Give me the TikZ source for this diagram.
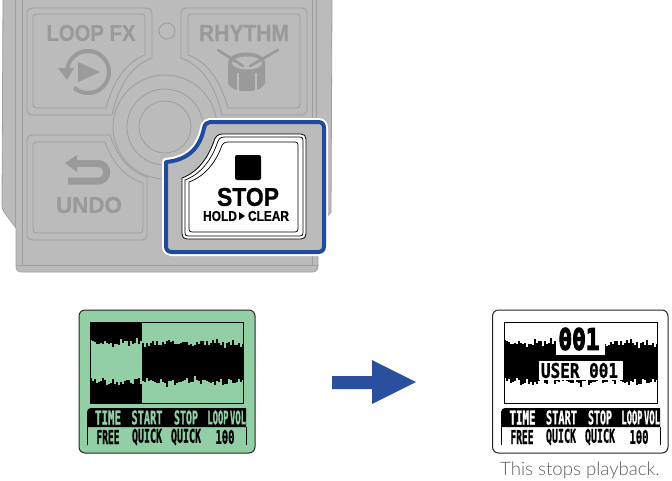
\documentclass[tikz,border=0pt]{standalone}
\usepackage{fontspec}
\usepackage{graphicx}
\setmainfont{Liberation Sans}
\newfontfamily\lcdfont{DejaVu Sans Mono Bold}[FakeBold=1.2]
\newfontfamily\lcdheavy{DejaVu Sans Mono Bold}[FakeBold=4]
\newfontfamily\heavy{Liberation Sans Bold}[FakeBold=0.8]
\newfontfamily\capfont{Lato Light}
\definecolor{bodyfill}{HTML}{BBBBBB}
\definecolor{bodyline}{HTML}{9E9E9E}
\definecolor{bodytext}{HTML}{9A9A9A}
\definecolor{hiblue}{HTML}{1F4A9E}
\definecolor{arrowblue}{HTML}{2A4F9F}
\definecolor{lcdgreen}{HTML}{92CFA5}
\definecolor{captext}{HTML}{5E5E5E}
\newcommand{\fitwh}[3]{\resizebox{#1pt}{#2pt}{\heavy #3}}
\newcommand{\lcdtxt}[3]{\resizebox{#1pt}{#2pt}{\lcdfont #3}}
\newcommand{\angm}[1]{\the\numexpr \i*#1-360*(\i*#1/360)\relax}
\tikzset{
  x=1pt,y=-1pt,
  outl/.style={draw=bodyline,line width=0.8pt,fill=none},
  lbl/.style={inner sep=0pt,text=bodytext},
  lcdlbl/.style={inner sep=0pt,anchor=center},
  icon/.style={draw=bodytext,line cap=butt},
}
% waveform bars, #1 first x, #2 second x, #3 last x, #4 colour, #5 x offset
\newcommand{\wavebars}[5]{%
  \foreach \i in {#1,#2,...,#3}{%
    \pgfmathsetmacro\tp{343+1.6*sin(\angm{23})+1.5*sin(\angm{71})+1.4*sin(\angm{113})-1.0*sin(\angm{9})}%
    \pgfmathsetmacro\bt{381.5+1.8*sin(\angm{31})+1.6*sin(\angm{83})+1.4*sin(\angm{137})+1.2*sin(\angm{7})}%
    \fill[#4] (#5+\i,\tp) rectangle (#5+\i+2.1,\bt);
  }}
% lower label block; #1 x offset, #2 bar text colour, #3 name prefix, #4..#8 positions
\newcommand{\softkeys}[8]{%
  \fill[black] (#1+87,427) -- (#1+87,412) arc[start angle=180,end angle=270,radius=4] -- (#1+246,408) -- (#1+246,427) -- cycle;
  \draw[black,line width=0.9pt] (#1+87,427) -- (#1+87,445) (#1+246,427) -- (#1+246,445);
  \node[lcdlbl,text=#2] (#3time) at (#1+#4,417.5) {\lcdtxt{26}{14}{TIME}};
  \node[lcdlbl,text=#2] (#3start) at (#1+#5,417.5) {\lcdtxt{31}{14}{START}};
  \node[lcdlbl,text=#2] (#3stop) at (#1+#6,417.5) {\lcdtxt{24}{14}{STOP}};
  \node[lcdlbl,text=#2] (#3loop) at (#1+#7,417.5) {\lcdtxt{21}{14}{LOOP}};
  \node[lcdlbl,text=#2] (#3vol) at (#1+#8,417.5) {\lcdtxt{16}{14}{VOL}};
  \node[lcdlbl] (#3free) at (#1+108,437) {\lcdtxt{23}{14}{FREE}};
  \node[lcdlbl] (#3quicka) at (#1+147,437) {\lcdtxt{30}{14}{QUICK}};
  \node[lcdlbl] (#3quickb) at (#1+186,437) {\lcdtxt{30}{14}{QUICK}};
  \node[lcdlbl] (#3vals) at (#1+225,437) {\lcdtxt{19}{14}{100}};
}
\begin{document}
\begin{tikzpicture}
\useasboundingbox (0,0) rectangle (672,480);
% device body
\fill[bodyfill] (3,0) -- (2,205) .. controls (2,210) and (4,212) .. (7,216) -- (16,228) -- (16,266) .. controls (16,270) and (18,272) .. (22,272)
  -- (312,272) .. controls (316,272) and (318,270) .. (318,266) -- (318,228) -- (331,212) -- (332,0) -- cycle;
\draw[outl] (3,0) -- (2,205) .. controls (2,210) and (4,212) .. (7,216) -- (16,228) -- (16,266) .. controls (16,270) and (18,272) .. (22,272)
  -- (312,272) .. controls (316,272) and (318,270) .. (318,266) -- (318,228) -- (331,212) -- (332,0);
\draw[outl] (15,0) -- (15,228) (22,0) -- (22,265) (316,0) -- (316,228) (312,0) -- (312,265) (16,265) -- (318,265);
% loop fx button
\draw[outl] (33,8) -- (146,8) .. controls (150,8) and (152,10) .. (152,14) -- (152,58) .. controls (130,66) and (118,88) .. (112,115) -- (33,115) .. controls (29,115) and (27,113) .. (27,109) -- (27,14) .. controls (27,10) and (29,8) .. (33,8) -- cycle;
\draw[outl] (37,14) -- (141,14) .. controls (144,14) and (145,15) .. (145,18) -- (145,55) .. controls (125,62) and (112,85) .. (106,108) -- (37,108) .. controls (34,108) and (33,107) .. (33,104) -- (33,18) .. controls (33,15) and (34,14) .. (37,14) -- cycle;
% rhythm button
\draw[outl] (187,8) -- (301,8) .. controls (305,8) and (307,10) .. (307,14) -- (307,109) .. controls (307,113) and (305,115) .. (301,115) -- (222,115) .. controls (216,88) and (203,66) .. (181,58) -- (181,14) .. controls (181,10) and (183,8) .. (187,8) -- cycle;
\draw[outl] (192,14) -- (296,14) .. controls (299,14) and (300,15) .. (300,18) -- (300,104) .. controls (300,107) and (299,108) .. (296,108) -- (228,108) .. controls (222,85) and (209,62) .. (188,55) -- (188,18) .. controls (188,15) and (189,14) .. (192,14) -- cycle;
% undo button
\draw[outl] (33,135) -- (110,135) .. controls (118,160) and (132,172) .. (147,177) -- (147,234) .. controls (147,238) and (145,240) .. (141,240) -- (33,240) .. controls (29,240) and (27,238) .. (27,234) -- (27,141) .. controls (27,137) and (29,135) .. (33,135) -- cycle;
\draw[outl] (37,142) -- (105,142) .. controls (113,165) and (127,178) .. (143,183) -- (143,229) .. controls (143,232) and (142,233) .. (139,233) -- (37,233) .. controls (34,233) and (33,232) .. (33,229) -- (33,146) .. controls (33,143) and (34,142) .. (37,142) -- cycle;
% dial and led
\node[circle,minimum size=16pt,inner sep=0pt,draw=bodyline,line width=0.8pt] (led) at (167,31) {};
\node[circle,minimum size=104pt,inner sep=0pt,draw=bodyline,line width=0.8pt,fill=bodyfill] (ringa) at (165,127) {};
\node[circle,minimum size=76pt,inner sep=0pt,draw=bodyline,line width=0.8pt] (ringb) at (165,127) {};
\node[circle,minimum size=52pt,inner sep=0pt,draw=bodyline,line width=0.8pt] (ringc) at (165,127) {};
% button texts
\node[lbl] (loopfx) at (91,33) {\fitwh{89}{16}{LOOP FX}};
\node[lbl] (rhythm) at (244,33) {\fitwh{90}{16}{RHYTHM}};
\node[lbl] (undo) at (89,205) {\fitwh{66}{16}{UNDO}};
% loop icon
\draw[icon,line width=4pt] (88,72) ++(190:21) arc[start angle=190,end angle=492,radius=21];
\fill[bodytext] (58,68) -- (74,68) -- (67,80) -- cycle;
\fill[bodytext] (78,62) -- (100,72) -- (78,82) -- cycle;
% drum icon
\fill[bodytext] (228,63) .. controls (228,49) and (265,49) .. (265,63) -- (265,83) .. controls (262,94) and (231,94) .. (228,83) -- cycle;
\fill[bodyfill] (247,63) ellipse[x radius=15,y radius=6.5];
\draw[icon,line width=2.6pt,line cap=round] (218,50) -- (243,66) (278,50) -- (250,66);
\draw[bodyfill,line width=2pt] (238,73) -- (238,91) (256,73) -- (256,91);
% undo icon
\fill[bodytext] (65,163) -- (77,155) -- (77,172) -- cycle;
\draw[icon,line width=7pt] (75,163.5) -- (98,163.5) arc[start angle=-90,end angle=90,radius=8.75] -- (68,181);
% highlight
\path[draw=white,line width=8pt,line join=round] (166,162) .. controls (188,160) and (200,148) .. (204,128) .. controls (205,124) and (207,122) .. (210,122) -- (318,122) .. controls (322,122) and (324,124) .. (324,128) -- (324,246) .. controls (324,250) and (322,252) .. (318,252) -- (172,252) .. controls (168,252) and (166,250) .. (166,246) -- cycle;
\fill[bodyfill] (166,162) .. controls (188,160) and (200,148) .. (204,128) .. controls (205,124) and (207,122) .. (210,122) -- (318,122) .. controls (322,122) and (324,124) .. (324,128) -- (324,246) .. controls (324,250) and (322,252) .. (318,252) -- (172,252) .. controls (168,252) and (166,250) .. (166,246) -- cycle;
% stop button
\path[fill=white,draw=black,line width=0.8pt] (182,178) .. controls (198,172) and (208,158) .. (214,141) .. controls (215,137) and (218,134) .. (222,134) -- (301,134) .. controls (304,134) and (306,136) .. (306,139) -- (306,234) .. controls (306,237) and (304,239) .. (301,239) -- (187,239) .. controls (184,239) and (182,237) .. (182,234) -- cycle;
\draw[black,line width=0.7pt] (185,180) .. controls (201,174) and (211,160) .. (217,144) .. controls (218,140) and (220,137) .. (224,137) -- (300,137) .. controls (302,137) and (303,138) .. (303,140) -- (303,233) .. controls (303,235) and (302,236) .. (300,236) -- (188,236) .. controls (186,236) and (185,235) .. (185,233) -- cycle;
\draw[black,line width=0.7pt] (189,182) .. controls (205,176) and (215,163) .. (221,148) .. controls (222,144) and (224,142) .. (228,142) -- (295,142) .. controls (297,142) and (298,143) .. (298,145) -- (298,229) .. controls (298,231) and (297,232) .. (295,232) -- (192,232) .. controls (190,232) and (189,231) .. (189,229) -- cycle;
\fill[black,rounded corners=2pt] (235,155) rectangle (261,180);
\node[inner sep=0pt] (stoptxt) at (248,197) {\fitwh{62}{18}{STOP}};
\node[inner sep=0pt] (holdtxt) at (220,216) {\fitwh{34}{10}{HOLD}};
\fill[black] (239,212) -- (245,216) -- (239,220) -- cycle;
\node[inner sep=0pt] (cleartxt) at (268.5,216) {\fitwh{41}{10}{CLEAR}};
\draw[hiblue,line width=4pt,line join=round] (166,162) .. controls (188,160) and (200,148) .. (204,128) .. controls (205,124) and (207,122) .. (210,122) -- (318,122) .. controls (322,122) and (324,124) .. (324,128) -- (324,246) .. controls (324,250) and (322,252) .. (318,252) -- (172,252) .. controls (168,252) and (166,250) .. (166,246) -- cycle;
% green screen
\path[fill=lcdgreen,draw=black!85,line width=1pt,rounded corners=6pt] (79,310) rectangle (255,453);
\fill[black] (90,322) rectangle (142,403);
\wavebars{90}{92}{140}{lcdgreen}{0}
\wavebars{142}{144}{240}{black}{0}
\fill[black] (242,344) rectangle (243,380);
\draw[black,line width=0.9pt] (90,322) rectangle (243,403);
\softkeys{0}{lcdgreen}{g}{108}{147}{186}{218}{238}
% arrow
\fill[arrowblue] (332,376) -- (372,376) -- (372,360) -- (416,382) -- (372,404) -- (372,389) -- (332,389) -- cycle;
% white screen
\path[fill=white,draw=black!85,line width=1pt,rounded corners=6pt] (492.5,310) rectangle (668,453);
\wavebars{90}{92}{240}{black}{414}
\fill[black] (656,344) rectangle (657,380);
\draw[black,line width=0.9pt] (504,322) rectangle (657,403);
\fill[white] (556,323) rectangle (605,355);
\fill[white] (539,361) rectangle (623,380);
\node[lcdlbl] (num) at (579,339) {\resizebox{41pt}{22pt}{\lcdheavy 001}};
\node[lcdlbl] (user) at (579.5,370.5) {\resizebox{77pt}{15pt}{\lcdfont USER 001}};
\softkeys{414}{white}{w}{108.5}{147.5}{186}{218}{238}
\node[inner sep=0pt,text=captext,font=\capfont\fontsize{18.6}{22}\selectfont] (cap) at (580,470) {This stops playback.};
\end{tikzpicture}
\end{document}
